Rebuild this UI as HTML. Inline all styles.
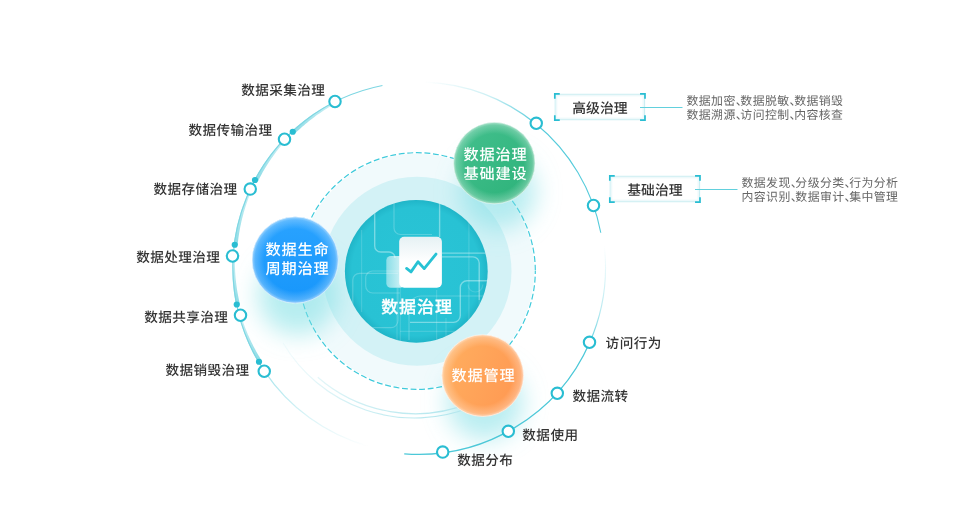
<!DOCTYPE html>
<html lang="zh-CN">
<head>
<meta charset="utf-8">
<title>数据治理</title>
<style>
html,body{margin:0;padding:0;background:#fff;}
body{width:960px;height:530px;overflow:hidden;position:relative;font-family:"Liberation Sans","Noto Sans CJK SC",sans-serif;}
svg{position:absolute;left:0;top:0;display:block;will-change:transform;}
text{font-family:"Liberation Sans","Noto Sans CJK SC",sans-serif;text-rendering:geometricPrecision;}
.lbl{font-size:13.6px;fill:#333;font-weight:500;letter-spacing:0.45px;}
.desc{font-size:11.9px;fill:#666;letter-spacing:0.42px;}
.pn{font-feature-settings:"halt";letter-spacing:-1.35px;}
.bub{font-size:15.2px;fill:#fff;text-anchor:middle;letter-spacing:0.8px;font-weight:500;}
.box{font-size:13.8px;fill:#333;text-anchor:middle;font-weight:500;}
.ctr{font-size:17px;fill:#fff;text-anchor:middle;font-weight:500;letter-spacing:0.9px;stroke:#fff;stroke-width:0.3px;}
</style>
</head>
<body>
<svg width="960" height="530" viewBox="0 0 960 530">
<defs>
  <filter id="blur" x="-60%" y="-60%" width="220%" height="220%"><feGaussianBlur stdDeviation="12"/></filter>
  <radialGradient id="gCenter" cx="50%" cy="50%" r="50%">
    <stop offset="0" stop-color="#29c4d6"/>
    <stop offset="0.9" stop-color="#28c2d4"/>
    <stop offset="1" stop-color="#20b5c8"/>
  </radialGradient>
  <radialGradient id="edge" cx="50%" cy="50%" r="50%">
    <stop offset="0" stop-color="#fff" stop-opacity="0"/>
    <stop offset="0.72" stop-color="#fff" stop-opacity="0"/>
    <stop offset="0.93" stop-color="#fff" stop-opacity="0.25"/>
    <stop offset="0.985" stop-color="#fff" stop-opacity="0.5"/>
    <stop offset="1" stop-color="#fff" stop-opacity="0.75"/>
  </radialGradient>
  <linearGradient id="gBlueL" x1="0" y1="0" x2="0" y2="1">
    <stop offset="0" stop-color="#2aa3ff"/>
    <stop offset="1" stop-color="#1796fb"/>
  </linearGradient>
  <linearGradient id="gGreenL" x1="0" y1="0" x2="1" y2="1">
    <stop offset="0" stop-color="#45c18f"/>
    <stop offset="1" stop-color="#2bb178"/>
  </linearGradient>
  <linearGradient id="gOrangeL" x1="0" y1="0.3" x2="1" y2="0.7">
    <stop offset="0" stop-color="#ffae5f"/>
    <stop offset="1" stop-color="#ff9852"/>
  </linearGradient>
  <linearGradient id="back" x1="0" y1="0" x2="1" y2="0">
    <stop offset="0" stop-color="#fff" stop-opacity="0.45"/>
    <stop offset="0.7" stop-color="#fff" stop-opacity="0.72"/>
  </linearGradient>
  <linearGradient id="doc" x1="0" y1="0" x2="0" y2="1">
    <stop offset="0" stop-color="#e6f1f4"/>
    <stop offset="0.5" stop-color="#ffffff"/>
  </linearGradient>
  <clipPath id="cc"><circle cx="416.3" cy="271.3" r="71.4"/></clipPath>
<linearGradient id="gl1" gradientUnits="userSpaceOnUse" x1="382.46" y1="85.53" x2="335.14" y2="101.77"><stop offset="0" stop-color="#6fd3e0" stop-opacity="0.55"/><stop offset="1" stop-color="#6fd3e0" stop-opacity="0.75"/></linearGradient>
<linearGradient id="gl2" gradientUnits="userSpaceOnUse" x1="264.45" y1="371.12" x2="367.95" y2="446.18"><stop offset="0" stop-color="#8adbe6" stop-opacity="0.75"/><stop offset="0.5" stop-color="#8adbe6" stop-opacity="0.3"/><stop offset="1" stop-color="#8adbe6" stop-opacity="0"/></linearGradient>
<linearGradient id="gt0" gradientUnits="userSpaceOnUse" x1="335.14" y1="101.77" x2="292.42" y2="131.4"><stop offset="0" stop-color="#c6eef3" stop-opacity="0.9"/><stop offset="1" stop-color="#8ddce6" stop-opacity="1"/></linearGradient>
<linearGradient id="gt1" gradientUnits="userSpaceOnUse" x1="284.47" y1="139.22" x2="254.9" y2="179.95"><stop offset="0" stop-color="#c6eef3" stop-opacity="0.9"/><stop offset="1" stop-color="#8ddce6" stop-opacity="1"/></linearGradient>
<linearGradient id="gt2" gradientUnits="userSpaceOnUse" x1="250.31" y1="189.13" x2="234.32" y2="244.7"><stop offset="0" stop-color="#c6eef3" stop-opacity="0.9"/><stop offset="1" stop-color="#8ddce6" stop-opacity="1"/></linearGradient>
<linearGradient id="gt3" gradientUnits="userSpaceOnUse" x1="233.26" y1="256.05" x2="236.61" y2="304.53"><stop offset="0" stop-color="#c6eef3" stop-opacity="0.9"/><stop offset="1" stop-color="#8ddce6" stop-opacity="1"/></linearGradient>
<linearGradient id="gt4" gradientUnits="userSpaceOnUse" x1="239.21" y1="315.59" x2="258.67" y2="361.95"><stop offset="0" stop-color="#c6eef3" stop-opacity="0.9"/><stop offset="1" stop-color="#8ddce6" stop-opacity="1"/></linearGradient>
<linearGradient id="gr1" gradientUnits="userSpaceOnUse" x1="425" y1="82.11" x2="535.84" y2="123.8"><stop offset="0" stop-color="#55cbdb" stop-opacity="0"/><stop offset="0.55" stop-color="#55cbdb" stop-opacity="0.3"/><stop offset="1" stop-color="#55cbdb" stop-opacity="1"/></linearGradient>
<linearGradient id="gb1" gradientUnits="userSpaceOnUse" x1="589.72" y1="342.4" x2="604.3" y2="246.08"><stop offset="0" stop-color="#55cbdb" stop-opacity="0.9"/><stop offset="0.35" stop-color="#55cbdb" stop-opacity="0.4"/><stop offset="1" stop-color="#55cbdb" stop-opacity="0"/></linearGradient>
<linearGradient id="gi" gradientUnits="userSpaceOnUse" x1="283" y1="343" x2="440" y2="415"><stop offset="0" stop-color="#bfeaf0" stop-opacity="0.15"/><stop offset="0.6" stop-color="#bfeaf0" stop-opacity="0.8"/><stop offset="1" stop-color="#b5e7ee" stop-opacity="1"/></linearGradient>
</defs>

<!-- rings -->
<circle cx="417" cy="271" r="118.6" fill="#fff"/><circle cx="417" cy="271" r="117.2" fill="#f1fafc"/>
<circle cx="417" cy="271" r="118.3" fill="none" stroke="#3fcadb" stroke-width="1.2" stroke-dasharray="5.9 2.7" stroke-dashoffset="2.9"/>
<circle cx="417" cy="271.3" r="94.5" fill="#d3f2f6"/>

<!-- glows -->
<g filter="url(#blur)" fill="#78dde4">
<circle cx="298" cy="295" r="40" fill-opacity="0.54"/>
<circle cx="498" cy="192" r="38" fill-opacity="0.52"/>
<circle cx="485" cy="402" r="38" fill-opacity="0.52"/>
</g>

<!-- center -->
<circle cx="416.3" cy="271.3" r="71.4" fill="url(#gCenter)"/>
<g clip-path="url(#cc)" fill="none" stroke="#fff" stroke-width="1.2">
  <g stroke-opacity="0.38" stroke-width="1.4">
    <path d="M374.7 205V246a6 6 0 0 0 6 6H389a6 6 0 0 1 6 6"/>
    <path d="M439.6 198V237"/>
    <path d="M442 253.1H490"/>
    <path d="M442 256.9H473a6.2 6.2 0 0 1 6.2 6.2V300"/>
    <path d="M490 280.8H467a6.7 6.7 0 0 0-6.7 6.7V315.5a6.9 6.9 0 0 1-6.9 6.9H410"/>
  </g>
  <g stroke-opacity="0.22">
    <path d="M394 196V228a6.5 6.5 0 0 0 6.5 6.5H432"/>
    <path d="M398 273.3H359.5a6.7 6.7 0 0 0-6.7 6.7V321a6.6 6.6 0 0 0 6.6 6.6H391a7 7 0 0 0 7-7V288"/>
    <path d="M400 271H372.5a6.8 6.8 0 0 0-6.8 6.8V286a7 7 0 0 0 7 7H400"/>
    <path d="M409 340V308a12 12 0 0 1 12-12H490"/>
  </g>
  <g stroke-opacity="0.14">
    <path d="M361.6 230V312"/>
    <path d="M397 288V345"/>
    <path d="M400.3 288V345"/>
    <path d="M468.9 215V345"/>
    <path d="M479.2 300V340"/>
    <path d="M436.6 290V345"/>
    <path d="M446 318V345"/>
    <path d="M400 331.4H480"/>
    <path d="M468 284.6a7.4 7.4 0 0 0 14.8 0"/>
  </g>
</g>
<rect x="386.3" y="256" width="18" height="31.7" rx="4.5" fill="url(#back)"/>
<rect x="399.2" y="236.7" width="42.7" height="51" rx="5" fill="url(#doc)"/>
<path d="M406.6 268.4L411 271.9L418 261.7L424.2 268.6L436 254.1" fill="none" stroke="#27c2d4" stroke-width="2.8" stroke-linecap="round" stroke-linejoin="round"/>
<text class="ctr" x="417.0" y="312.8">数据治理</text>

<path d="M264.45 371.12A185.6 185.6 0 0 0 367.95 446.18" fill="none" stroke="url(#gl2)" stroke-width="1.2"/>
<path d="M334.87 101.24L332.93 102.23L331 103.24L329.08 104.28L327.17 105.34L325.28 106.42L323.4 107.52L321.53 108.64L319.68 109.79L317.83 110.96L316.01 112.15L314.19 113.36L312.4 114.59L310.61 115.84L308.84 117.12L307.09 118.41L305.35 119.72L303.63 121.06L301.92 122.41L300.23 123.79L298.55 125.18L296.89 126.6L295.25 128.03L293.62 129.48L292.01 130.96L294.66 133.82L296.19 132.33L297.74 130.85L299.31 129.4L300.89 127.96L302.49 126.54L304.11 125.14L305.74 123.76L307.39 122.4L309.06 121.05L310.75 119.73L312.45 118.42L314.16 117.14L315.89 115.87L317.64 114.62L319.4 113.4L321.18 112.19L322.97 111.01L324.78 109.84L326.6 108.7L328.43 107.57L330.28 106.47L332.14 105.39L334.01 104.33L335.9 103.29Z" fill="url(#gt0)"/>
<path d="M284.03 138.8L282.58 140.33L281.15 141.88L279.73 143.45L278.33 145.03L276.95 146.62L275.59 148.24L274.25 149.86L272.92 151.51L271.62 153.16L270.33 154.84L269.06 156.52L267.81 158.22L266.58 159.94L265.37 161.67L264.18 163.41L263.01 165.16L261.86 166.93L260.73 168.71L259.62 170.51L258.53 172.32L257.46 174.14L256.41 175.97L255.38 177.81L254.37 179.66L257.81 181.51L258.74 179.66L259.69 177.82L260.66 175.99L261.65 174.18L262.66 172.37L263.69 170.57L264.75 168.79L265.82 167.02L266.92 165.26L268.03 163.51L269.16 161.77L270.32 160.04L271.49 158.33L272.69 156.63L273.9 154.95L275.14 153.27L276.39 151.61L277.66 149.97L278.96 148.34L280.27 146.72L281.59 145.11L282.94 143.53L284.31 141.95L285.69 140.39Z" fill="url(#gt1)"/>
<path d="M249.76 188.87L248.75 191.08L247.77 193.3L246.81 195.53L245.89 197.77L244.99 200.03L244.13 202.3L243.29 204.57L242.48 206.86L241.71 209.16L240.96 211.47L240.24 213.79L239.56 216.12L238.9 218.46L238.28 220.8L237.68 223.15L237.12 225.51L236.59 227.88L236.08 230.26L235.61 232.64L235.17 235.02L234.76 237.42L234.38 239.81L234.04 242.22L233.72 244.62L237.59 245.1L237.84 242.74L238.11 240.38L238.41 238.02L238.75 235.66L239.12 233.31L239.51 230.96L239.94 228.61L240.4 226.28L240.89 223.94L241.41 221.61L241.96 219.29L242.54 216.98L243.15 214.67L243.79 212.37L244.46 210.07L245.16 207.79L245.89 205.51L246.66 203.24L247.45 200.98L248.27 198.74L249.12 196.5L250 194.27L250.91 192.05L251.85 189.84Z" fill="url(#gt2)"/>
<path d="M232.66 256.01L232.55 258.04L232.45 260.08L232.38 262.12L232.33 264.15L232.31 266.19L232.3 268.23L232.32 270.26L232.36 272.3L232.42 274.34L232.51 276.37L232.61 278.41L232.74 280.44L232.89 282.47L233.07 284.5L233.26 286.53L233.48 288.55L233.72 290.58L233.99 292.6L234.27 294.61L234.58 296.63L234.91 298.64L235.26 300.65L235.63 302.65L236.02 304.65L239.84 303.87L239.39 301.93L238.96 299.98L238.55 298.02L238.17 296.06L237.8 294.1L237.45 292.13L237.13 290.15L236.83 288.18L236.55 286.19L236.29 284.21L236.05 282.22L235.84 280.23L235.64 278.23L235.47 276.23L235.32 274.23L235.19 272.23L235.09 270.22L235 268.22L234.94 266.21L234.9 264.2L234.88 262.19L234.88 260.18L234.91 258.17L234.96 256.15Z" fill="url(#gt3)"/>
<path d="M238.63 315.75L239.19 317.78L239.77 319.81L240.37 321.83L241 323.84L241.65 325.85L242.32 327.85L243.01 329.84L243.72 331.82L244.46 333.79L245.22 335.76L246.01 337.72L246.81 339.66L247.64 341.6L248.49 343.53L249.36 345.45L250.25 347.36L251.16 349.26L252.1 351.15L253.05 353.03L254.03 354.9L255.03 356.75L256.05 358.6L257.09 360.43L258.15 362.25L261.51 360.27L260.41 358.52L259.34 356.76L258.28 354.98L257.24 353.19L256.22 351.39L255.23 349.58L254.25 347.76L253.29 345.92L252.35 344.07L251.44 342.21L250.54 340.34L249.67 338.46L248.82 336.57L247.98 334.67L247.17 332.76L246.38 330.84L245.62 328.91L244.87 326.97L244.15 325.02L243.44 323.07L242.76 321.1L242.11 319.13L241.47 317.14L240.86 315.15Z" fill="url(#gt4)"/>
<path d="M382.46 85.53A185.6 185.6 0 0 0 264.45 371.12" fill="none" stroke="#7dd6e2" stroke-width="1.1"/>
<circle cx="292.75" cy="131.75" r="3.1" fill="#29bdd2"/>
<circle cx="255" cy="180" r="3.1" fill="#29bdd2"/>
<circle cx="234.75" cy="244.75" r="3.1" fill="#29bdd2"/>
<circle cx="236.75" cy="304.5" r="3.1" fill="#29bdd2"/>
<circle cx="259" cy="361.75" r="3.1" fill="#29bdd2"/>
<path d="M425 82.11A185.6 185.6 0 0 1 535.84 123.8" fill="none" stroke="url(#gr1)" stroke-width="1.2"/>
<path d="M535.84 123.8A185.6 185.6 0 0 1 600.8 232.73" fill="none" stroke="#55cbdb" stroke-width="1.1"/>
<path d="M404.23 453.76A187.1 187.1 0 0 0 589.72 342.4" fill="none" stroke="#4cc8d8" stroke-width="1.25"/>
<path d="M589.72 342.4A187.1 187.1 0 0 0 604.3 246.08" fill="none" stroke="url(#gb1)" stroke-width="1.1"/>
<path d="M283.12 342.93A152.5 152.5 0 0 0 471.91 406.78" fill="none" stroke="url(#gi)" stroke-width="1.2"/>
<path d="M317.76 377.27A148 148 0 0 0 470.03 403.09" fill="none" stroke="url(#gi)" stroke-width="1.2"/>
<circle cx="335" cy="101.5" r="5.7" fill="#fff" stroke="#29bdd2" stroke-width="2.1"/>
<circle cx="284.5" cy="139.25" r="5.7" fill="#fff" stroke="#29bdd2" stroke-width="2.1"/>
<circle cx="250.25" cy="189.1" r="5.7" fill="#fff" stroke="#29bdd2" stroke-width="2.1"/>
<circle cx="232.5" cy="256" r="5.7" fill="#fff" stroke="#29bdd2" stroke-width="2.1"/>
<circle cx="240.5" cy="315.25" r="5.7" fill="#fff" stroke="#29bdd2" stroke-width="2.1"/>
<circle cx="264.25" cy="371.25" r="5.7" fill="#fff" stroke="#29bdd2" stroke-width="2.1"/>
<circle cx="536.25" cy="123.3" r="5.7" fill="#fff" stroke="#29bdd2" stroke-width="2.1"/>
<circle cx="593.5" cy="205.5" r="5.7" fill="#fff" stroke="#29bdd2" stroke-width="2.1"/>
<circle cx="589.5" cy="342.3" r="5.7" fill="#fff" stroke="#29bdd2" stroke-width="2.1"/>
<circle cx="557.3" cy="393.3" r="5.7" fill="#fff" stroke="#29bdd2" stroke-width="2.1"/>
<circle cx="508.3" cy="431.3" r="5.7" fill="#fff" stroke="#29bdd2" stroke-width="2.1"/>
<circle cx="442.7" cy="452.1" r="5.7" fill="#fff" stroke="#29bdd2" stroke-width="2.1"/>
<text class="lbl" text-anchor="end" x="325.4" y="94.9">数据采集治理</text>
<text class="lbl" text-anchor="end" x="272.65" y="134.9">数据传输治理</text>
<text class="lbl" text-anchor="end" x="237.65" y="193.65">数据存储治理</text>
<text class="lbl" text-anchor="end" x="220.4" y="261.9">数据处理治理</text>
<text class="lbl" text-anchor="end" x="228.4" y="321.9">数据共享治理</text>
<text class="lbl" text-anchor="end" x="249.65" y="374.9">数据销毁治理</text>
<text class="lbl" x="605.6" y="348.2">访问行为</text>
<text class="lbl" x="572.4" y="400.7">数据流转</text>
<text class="lbl" x="522.3" y="440.2">数据使用</text>
<text class="lbl" x="457.2" y="465.3">数据分布</text>
<rect x="555.2" y="94.3" width="89.4" height="25.4" fill="#fff" stroke="#c3ecf1" stroke-width="1"/>
<rect x="556.5" y="95.6" width="86.8" height="22.8" fill="none" stroke="#eef9fb" stroke-width="1.6"/>
<path d="M554.8 98V93.9H558.9M640.9 93.9H645V98M645 116V120.1H640.9M558.9 120.1H554.8V116" fill="none" stroke="#29bdd2" stroke-width="1.7" stroke-linecap="square"/>
<path d="M640 107.5H682.5" stroke="#62d0dd" stroke-width="1"/>
<text class="box" x="599.9" y="112.8">高级治理</text>
<text class="desc" x="686.5" y="104.8">数据加密<tspan class="pn">、</tspan>数据脱敏<tspan class="pn">、</tspan>数据销毁</text>
<text class="desc" x="686.5" y="119.4">数据溯源<tspan class="pn">、</tspan>访问控制<tspan class="pn">、</tspan>内容核查</text>
<rect x="610.2" y="176.3" width="89.4" height="25.4" fill="#fff" stroke="#c3ecf1" stroke-width="1"/>
<rect x="611.5" y="177.6" width="86.8" height="22.8" fill="none" stroke="#eef9fb" stroke-width="1.6"/>
<path d="M609.8 180V175.9H613.9M695.9 175.9H700V180M700 198V202.1H695.9M613.9 202.1H609.8V198" fill="none" stroke="#29bdd2" stroke-width="1.7" stroke-linecap="square"/>
<path d="M695 189.5H737.5" stroke="#62d0dd" stroke-width="1"/>
<text class="box" x="654.9" y="194.8">基础治理</text>
<text class="desc" x="741.5" y="186.8">数据发现<tspan class="pn">、</tspan>分级分类<tspan class="pn">、</tspan>行为分析</text>
<text class="desc" x="741.5" y="201.4">内容识别<tspan class="pn">、</tspan>数据审计<tspan class="pn">、</tspan>集中管理</text>
<!-- bubbles -->
<circle cx="295.2" cy="260" r="43.2" fill="url(#gBlueL)"/>
<circle cx="295.2" cy="260" r="43.2" fill="url(#edge)" stroke="#fff" stroke-opacity="0.5" stroke-width="1"/>
<circle cx="494.3" cy="163.1" r="40.8" fill="url(#gGreenL)"/>
<circle cx="494.3" cy="163.1" r="40.8" fill="url(#edge)" stroke="#fff" stroke-opacity="0.5" stroke-width="1"/>
<circle cx="482.7" cy="375.6" r="40.9" fill="url(#gOrangeL)"/>
<circle cx="482.7" cy="375.6" r="40.9" fill="url(#edge)" stroke="#fff" stroke-opacity="0.5" stroke-width="1"/>
<text class="bub" x="297.5" y="254.85">数据生命</text>
<text class="bub" x="297.5" y="273.6">周期治理</text>
<text class="bub" x="495.5" y="159.8">数据治理</text>
<text class="bub" x="495.5" y="178.75">基础建设</text>
<text class="bub" x="483.6" y="381.35">数据管理</text>
</svg>
</body>
</html>
